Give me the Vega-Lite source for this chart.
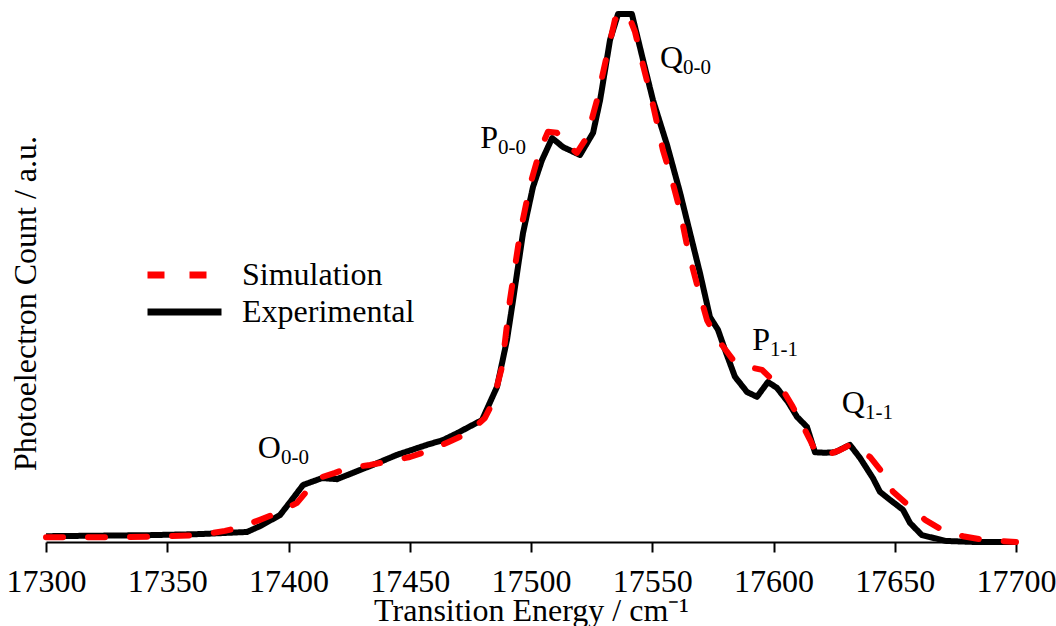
{
  "$schema": "https://vega.github.io/schema/vega-lite/v6.json",
  "width": 970,
  "height": 528,
  "autosize": {"type": "none"},
  "padding": {"left": 46, "top": 14, "right": 40, "bottom": 84},
  "background": "white",
  "config": {
    "font": "Liberation Serif",
    "view": {"stroke": null},
    "axis": {"labelFont": "Liberation Serif", "titleFont": "Liberation Serif", "grid": false}
  },
  "datasets": {
    "spectra": [
      {"series": "Experimental", "energy": 17300.0, "count": 0.011},
      {"series": "Experimental", "energy": 17322.3, "count": 0.012},
      {"series": "Experimental", "energy": 17342.9, "count": 0.013},
      {"series": "Experimental", "energy": 17363.5, "count": 0.015},
      {"series": "Experimental", "energy": 17382.9, "count": 0.019},
      {"series": "Experimental", "energy": 17388.2, "count": 0.030},
      {"series": "Experimental", "energy": 17396.5, "count": 0.051},
      {"series": "Experimental", "energy": 17401.4, "count": 0.080},
      {"series": "Experimental", "energy": 17406.0, "count": 0.108},
      {"series": "Experimental", "energy": 17413.8, "count": 0.121},
      {"series": "Experimental", "energy": 17420.0, "count": 0.119},
      {"series": "Experimental", "energy": 17434.8, "count": 0.146},
      {"series": "Experimental", "energy": 17444.7, "count": 0.165},
      {"series": "Experimental", "energy": 17457.1, "count": 0.184},
      {"series": "Experimental", "energy": 17463.7, "count": 0.193},
      {"series": "Experimental", "energy": 17469.5, "count": 0.206},
      {"series": "Experimental", "energy": 17479.8, "count": 0.231},
      {"series": "Experimental", "energy": 17486.0, "count": 0.294},
      {"series": "Experimental", "energy": 17490.1, "count": 0.383},
      {"series": "Experimental", "energy": 17492.6, "count": 0.458},
      {"series": "Experimental", "energy": 17496.7, "count": 0.585},
      {"series": "Experimental", "energy": 17500.8, "count": 0.672},
      {"series": "Experimental", "energy": 17504.5, "count": 0.723},
      {"series": "Experimental", "energy": 17508.7, "count": 0.765},
      {"series": "Experimental", "energy": 17513.2, "count": 0.748},
      {"series": "Experimental", "energy": 17520.2, "count": 0.733},
      {"series": "Experimental", "energy": 17525.6, "count": 0.775},
      {"series": "Experimental", "energy": 17528.5, "count": 0.837},
      {"series": "Experimental", "energy": 17532.6, "count": 0.951},
      {"series": "Experimental", "energy": 17535.9, "count": 1.000},
      {"series": "Experimental", "energy": 17541.6, "count": 1.000},
      {"series": "Experimental", "energy": 17546.2, "count": 0.913},
      {"series": "Experimental", "energy": 17550.3, "count": 0.837},
      {"series": "Experimental", "energy": 17556.1, "count": 0.752},
      {"series": "Experimental", "energy": 17561.4, "count": 0.663},
      {"series": "Experimental", "energy": 17565.6, "count": 0.585},
      {"series": "Experimental", "energy": 17569.7, "count": 0.509},
      {"series": "Experimental", "energy": 17573.8, "count": 0.426},
      {"series": "Experimental", "energy": 17577.1, "count": 0.402},
      {"series": "Experimental", "energy": 17580.0, "count": 0.364},
      {"series": "Experimental", "energy": 17584.1, "count": 0.313},
      {"series": "Experimental", "energy": 17589.1, "count": 0.284},
      {"series": "Experimental", "energy": 17593.2, "count": 0.275},
      {"series": "Experimental", "energy": 17597.7, "count": 0.303},
      {"series": "Experimental", "energy": 17601.4, "count": 0.292},
      {"series": "Experimental", "energy": 17606.0, "count": 0.265},
      {"series": "Experimental", "energy": 17609.7, "count": 0.237},
      {"series": "Experimental", "energy": 17613.8, "count": 0.218},
      {"series": "Experimental", "energy": 17617.1, "count": 0.170},
      {"series": "Experimental", "energy": 17621.2, "count": 0.169},
      {"series": "Experimental", "energy": 17625.4, "count": 0.170},
      {"series": "Experimental", "energy": 17631.5, "count": 0.184},
      {"series": "Experimental", "energy": 17635.7, "count": 0.159},
      {"series": "Experimental", "energy": 17641.0, "count": 0.121},
      {"series": "Experimental", "energy": 17643.9, "count": 0.095},
      {"series": "Experimental", "energy": 17648.0, "count": 0.080},
      {"series": "Experimental", "energy": 17653.4, "count": 0.061},
      {"series": "Experimental", "energy": 17656.3, "count": 0.036},
      {"series": "Experimental", "energy": 17661.2, "count": 0.013},
      {"series": "Experimental", "energy": 17671.1, "count": 0.002},
      {"series": "Experimental", "energy": 17683.1, "count": 0.000},
      {"series": "Experimental", "energy": 17700.0, "count": 0.000},

      {"series": "Simulation", "energy": 17300.0, "count": 0.009},
      {"series": "Simulation", "energy": 17322.3, "count": 0.009},
      {"series": "Simulation", "energy": 17342.9, "count": 0.010},
      {"series": "Simulation", "energy": 17363.5, "count": 0.013},
      {"series": "Simulation", "energy": 17373.8, "count": 0.021},
      {"series": "Simulation", "energy": 17380.0, "count": 0.028},
      {"series": "Simulation", "energy": 17388.2, "count": 0.042},
      {"series": "Simulation", "energy": 17396.5, "count": 0.057},
      {"series": "Simulation", "energy": 17403.5, "count": 0.074},
      {"series": "Simulation", "energy": 17409.7, "count": 0.108},
      {"series": "Simulation", "energy": 17413.8, "count": 0.123},
      {"series": "Simulation", "energy": 17419.2, "count": 0.131},
      {"series": "Simulation", "energy": 17424.5, "count": 0.140},
      {"series": "Simulation", "energy": 17433.6, "count": 0.146},
      {"series": "Simulation", "energy": 17441.9, "count": 0.153},
      {"series": "Simulation", "energy": 17450.1, "count": 0.161},
      {"series": "Simulation", "energy": 17458.4, "count": 0.174},
      {"series": "Simulation", "energy": 17465.8, "count": 0.189},
      {"series": "Simulation", "energy": 17474.0, "count": 0.206},
      {"series": "Simulation", "energy": 17481.0, "count": 0.235},
      {"series": "Simulation", "energy": 17484.3, "count": 0.265},
      {"series": "Simulation", "energy": 17488.0, "count": 0.331},
      {"series": "Simulation", "energy": 17491.3, "count": 0.458},
      {"series": "Simulation", "energy": 17495.5, "count": 0.585},
      {"series": "Simulation", "energy": 17499.6, "count": 0.676},
      {"series": "Simulation", "energy": 17503.7, "count": 0.742},
      {"series": "Simulation", "energy": 17507.0, "count": 0.777},
      {"series": "Simulation", "energy": 17510.7, "count": 0.775},
      {"series": "Simulation", "energy": 17514.8, "count": 0.752},
      {"series": "Simulation", "energy": 17518.9, "count": 0.737},
      {"series": "Simulation", "energy": 17523.1, "count": 0.767},
      {"series": "Simulation", "energy": 17527.2, "count": 0.837},
      {"series": "Simulation", "energy": 17531.3, "count": 0.922},
      {"series": "Simulation", "energy": 17534.6, "count": 0.989},
      {"series": "Simulation", "energy": 17536.7, "count": 1.000},
      {"series": "Simulation", "energy": 17540.0, "count": 1.000},
      {"series": "Simulation", "energy": 17542.9, "count": 0.966},
      {"series": "Simulation", "energy": 17546.2, "count": 0.903},
      {"series": "Simulation", "energy": 17550.3, "count": 0.828},
      {"series": "Simulation", "energy": 17554.4, "count": 0.742},
      {"series": "Simulation", "energy": 17558.1, "count": 0.686},
      {"series": "Simulation", "energy": 17561.4, "count": 0.629},
      {"series": "Simulation", "energy": 17564.7, "count": 0.553},
      {"series": "Simulation", "energy": 17568.5, "count": 0.487},
      {"series": "Simulation", "energy": 17572.6, "count": 0.420},
      {"series": "Simulation", "energy": 17577.1, "count": 0.383},
      {"series": "Simulation", "energy": 17583.3, "count": 0.345},
      {"series": "Simulation", "energy": 17588.2, "count": 0.333},
      {"series": "Simulation", "energy": 17595.3, "count": 0.326},
      {"series": "Simulation", "energy": 17598.6, "count": 0.311},
      {"series": "Simulation", "energy": 17601.9, "count": 0.303},
      {"series": "Simulation", "energy": 17607.6, "count": 0.259},
      {"series": "Simulation", "energy": 17610.9, "count": 0.231},
      {"series": "Simulation", "energy": 17615.1, "count": 0.193},
      {"series": "Simulation", "energy": 17617.9, "count": 0.165},
      {"series": "Simulation", "energy": 17622.1, "count": 0.165},
      {"series": "Simulation", "energy": 17627.4, "count": 0.174},
      {"series": "Simulation", "energy": 17631.5, "count": 0.184},
      {"series": "Simulation", "energy": 17635.7, "count": 0.174},
      {"series": "Simulation", "energy": 17639.8, "count": 0.161},
      {"series": "Simulation", "energy": 17644.7, "count": 0.133},
      {"series": "Simulation", "energy": 17649.3, "count": 0.095},
      {"series": "Simulation", "energy": 17655.5, "count": 0.070},
      {"series": "Simulation", "energy": 17662.5, "count": 0.042},
      {"series": "Simulation", "energy": 17669.5, "count": 0.023},
      {"series": "Simulation", "energy": 17678.1, "count": 0.011},
      {"series": "Simulation", "energy": 17686.8, "count": 0.004},
      {"series": "Simulation", "energy": 17700.0, "count": 0.000}
    ],
    "peaks": [
      {"branch": "O", "band": "0-0", "energy": 17396.9, "count": 0.159},
      {"branch": "P", "band": "0-0", "energy": 17486.4, "count": 0.746},
      {"branch": "Q", "band": "0-0", "energy": 17562.7, "count": 0.898},
      {"branch": "P", "band": "1-1", "energy": 17598.6, "count": 0.364},
      {"branch": "Q", "band": "1-1", "energy": 17637.7, "count": 0.244}
    ]
  },
  "encoding": {
    "x": {
      "field": "energy",
      "type": "quantitative",
      "scale": {"domain": [17300, 17700], "nice": false},
      "axis": {
        "title": "Transition Energy / cm⁻¹",
        "values": [17300, 17350, 17400, 17450, 17500, 17550, 17600, 17650, 17700],
        "format": "d",
        "domainColor": "black",
        "domainWidth": 2,
        "tickColor": "black",
        "tickWidth": 2,
        "tickSize": 10,
        "labelFont": "Liberation Serif",
        "labelFontSize": 32,
        "labelColor": "black",
        "labelPadding": 14,
        "labelFlush": false,
        "labelOverlap": false,
        "titleFont": "Liberation Serif",
        "titleFontSize": 32,
        "titleFontWeight": "normal",
        "titleColor": "black",
        "titlePadding": -2
      }
    },
    "y": {
      "field": "count",
      "type": "quantitative",
      "scale": {"domain": [0, 1], "nice": false},
      "axis": {
        "title": "Photoelectron Count / a.u.",
        "domain": false,
        "ticks": false,
        "labels": false,
        "titleFont": "Liberation Serif",
        "titleFontSize": 32,
        "titleFontWeight": "normal",
        "titleColor": "black",
        "titleBaseline": "alphabetic",
        "titleAngle": -90,
        "titleAlign": "center",
        "titleX": -11,
        "titleY": 289
      }
    }
  },
  "layer": [
    {
      "data": {"name": "spectra"},
      "transform": [{"filter": "datum.series === 'Experimental'"}],
      "mark": {"type": "line", "strokeWidth": 6, "strokeJoin": "round", "strokeCap": "butt"},
      "encoding": {
        "color": {
          "field": "series",
          "type": "nominal",
          "scale": {"domain": ["Simulation", "Experimental"], "range": ["#ff0000", "#000000"]},
          "legend": {
            "title": null,
            "orient": "none",
            "legendX": 98,
            "legendY": 245,
            "padding": 0,
            "symbolType": "stroke",
            "symbolSize": 5476,
            "symbolStrokeWidth": 7,
            "clipHeight": 32,
            "labelFontSize": 32,
            "labelFont": "Liberation Serif",
            "labelColor": "black",
            "labelLimit": 400,
            "labelOffset": 17,
            "rowPadding": 5,
            "encode": {
              "symbols": {
                "update": {
                  "strokeDash": {"signal": "datum.value === 'Simulation' ? [27, 20] : [1, 0]"},
                  "strokeCap": {"value": "butt"}
                }
              }
            }
          }
        },
        "strokeDash": {
          "field": "series",
          "type": "nominal",
          "scale": {"domain": ["Simulation", "Experimental"], "range": [[17, 25], [1, 0]]},
          "legend": null
        }
      }
    },
    {
      "data": {"name": "spectra"},
      "transform": [{"filter": "datum.series === 'Simulation'"}],
      "mark": {"type": "line", "strokeWidth": 6, "strokeJoin": "round", "strokeCap": "round"},
      "encoding": {
        "color": {"field": "series", "type": "nominal"},
        "strokeDash": {"field": "series", "type": "nominal", "legend": null}
      }
    },
    {
      "data": {"name": "peaks"},
      "mark": {"type": "text", "align": "right", "baseline": "alphabetic", "fontSize": 32, "font": "Liberation Serif", "color": "black"},
      "encoding": {"text": {"field": "branch"}}
    },
    {
      "data": {"name": "peaks"},
      "mark": {"type": "text", "align": "left", "baseline": "alphabetic", "dy": 6, "fontSize": 21, "font": "Liberation Serif", "color": "black"},
      "encoding": {"text": {"field": "band"}}
    }
  ]
}
